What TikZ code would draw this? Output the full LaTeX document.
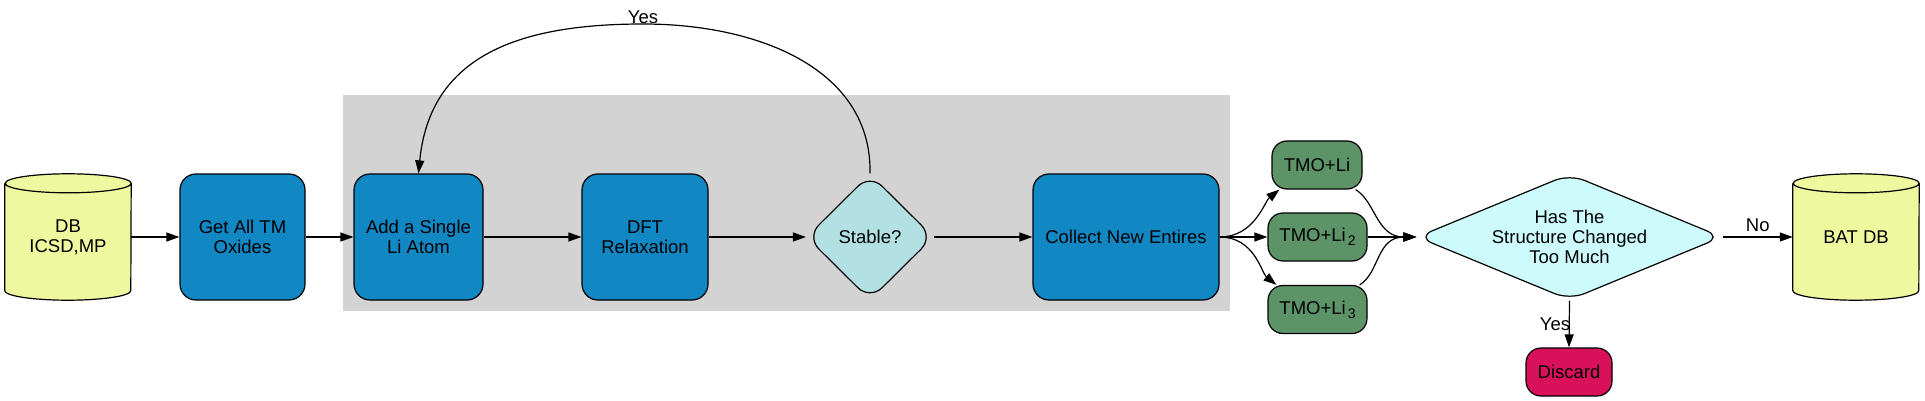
\documentclass[tikz,border=0pt]{standalone}
\usepackage{fontspec}
\setmainfont{Liberation Sans}
\usetikzlibrary{arrows.meta,shapes.geometric,calc,backgrounds}
\definecolor{dbyellow}{HTML}{EEF89F}
\definecolor{stepblue}{HTML}{1187C4}
\definecolor{tmogreen}{HTML}{5C9467}
\definecolor{stablecol}{HTML}{B3E0E3}
\definecolor{hascol}{HTML}{CDFBFC}
\definecolor{discardcol}{HTML}{D8115A}
\definecolor{clustergray}{HTML}{D3D3D3}
\newcommand{\nfont}{\fontsize{18.5}{20}\selectfont}
\newcommand{\lisub}[1]{\kern2pt\raisebox{-4pt}{\fontsize{14}{14}\selectfont #1}}
\begin{document}
\begin{tikzpicture}[x=1pt,y=-1pt,
  every node/.style={font=\nfont, inner sep=0pt},
  outl/.style={draw=black, line width=1.2pt},
  cylnode/.style={minimum width=126pt, minimum height=126pt, align=center},
  bluebox/.style={outl, fill=stepblue, rounded corners=16pt, minimum height=126pt, align=center},
  tmobox/.style={outl, fill=tmogreen, rounded corners=15pt, minimum height=48pt, align=center},
  discardbox/.style={outl, fill=discardcol, rounded corners=15pt, minimum height=48pt, minimum width=86pt},
  stablenode/.style={outl, fill=stablecol, diamond, rounded corners=17pt, minimum width=127pt, minimum height=126pt},
  hasnode/.style={outl, fill=hascol, diamond, shape aspect=2.42, rounded corners=16pt, minimum width=305pt, minimum height=126pt, align=center},
  conn/.style={line width=1.2pt, -{Triangle[length=13pt,width=9pt]}},
]
\useasboundingbox (0,0) rectangle (1925,401);

% nodes
\node[cylnode] (db) at (68,237) {DB\\ICSD,MP};
\node[bluebox, minimum width=125pt] (get) at (242.5,237) {Get All TM\\Oxides};
\node[bluebox, minimum width=129pt] (add) at (418.5,237) {Add a Single\\Li Atom};
\node[bluebox, minimum width=126pt] (dft) at (645,237) {DFT\\Relaxation};
\node[stablenode] (stable) at (870,237) {Stable?};
\node[bluebox, minimum width=186pt] (collect) at (1126,237) {Collect New Entires};
\node[tmobox, minimum width=90pt] (tmo1) at (1317,165) {TMO+Li};
\node[tmobox, minimum width=99pt] (tmo2) at (1317.5,237) {TMO+Li\lisub{2}};
\node[tmobox, minimum width=99pt] (tmo3) at (1317.5,309.5) {TMO+Li\lisub{3}};
\node[hasnode] (has) at (1569.5,237) {Has The\\Structure Changed\\Too Much};
\node[discardbox] (discard) at (1569,372) {Discard};
\node[cylnode] (bat) at (1856,237) {BAT DB};

% background: cluster and cylinder bodies
\begin{scope}[on background layer]
  \fill[clustergray] (343,95) rectangle (1230,311);
  \foreach \c in {db,bat}{
    \fill[dbyellow] ($(\c.north west)+(0,9.5)$) -- ($(\c.south west)+(0,-9.5)$)
      arc[start angle=180,end angle=0,x radius=63,y radius=9.5]
      -- ($(\c.north east)+(0,9.5)$)
      arc[start angle=0,end angle=-180,x radius=63,y radius=9.5] -- cycle;
  }
\end{scope}
\foreach \c in {db,bat}{
  \draw[outl] ($(\c.north west)+(0,9.5)$) -- ($(\c.south west)+(0,-9.5)$)
    arc[start angle=180,end angle=0,x radius=63,y radius=9.5]
    -- ($(\c.north east)+(0,9.5)$)
    arc[start angle=0,end angle=-180,x radius=63,y radius=9.5]
    arc[start angle=180,end angle=0,x radius=63,y radius=9.5];
}

% connectors
\draw[conn] (db.east) -- (get.west);
\draw[conn] (get.east) -- (add.west);
\draw[conn] (add.east) -- (dft.west);
\draw[conn] (dft.east) -- (stable.west);
\draw[conn] (stable.east) -- (collect.west);
\draw[conn] (stable.north) .. controls (872,70) and (760,24) .. (643,24)
  node[above] (yestop) {Yes}
  .. controls (520,24) and (430,55) .. (add.north);

\draw[conn] (collect.east) .. controls +(35,0) and +(-15,12) .. ([xshift=8pt]tmo1.south west);
\draw[conn] (collect.east) -- (tmo2.west);
\draw[conn] (collect.east) .. controls +(35,0) and +(-15,-12) .. ([xshift=9pt]tmo3.north west);

\draw[conn] ([xshift=-7pt]tmo1.south east) .. controls +(20,12) and +(-40,0) .. (has.west);
\draw[conn] (tmo2.east) -- (has.west);
\draw[conn] ([xshift=-8pt]tmo3.north east) .. controls +(20,-12) and +(-40,0) .. (has.west);

\draw[conn] (has.south) -- node[midway, left=-1.5pt] (yesdis) {Yes} (discard.north);
\draw[conn] (has.east) -- node[midway, above=5pt] (nolbl) {No} (bat.west);
\end{tikzpicture}
\end{document}
